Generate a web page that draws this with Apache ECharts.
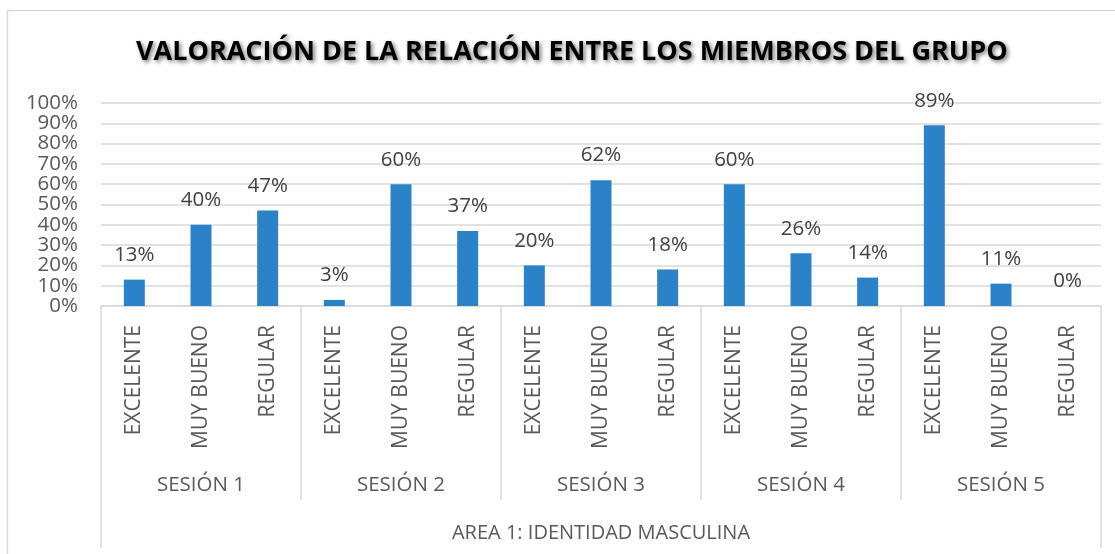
<!DOCTYPE html>
<html>
<head>
<meta charset="utf-8">
<script src="https://cdn.jsdelivr.net/npm/echarts@6/dist/echarts.min.js"></script>
<style>html,body{margin:0;padding:0;background:#fff}#c{width:1115px;height:554px}</style>
</head>
<body>
<div id="c"></div>
<script>
const title = 'VALORACIÓN DE LA RELACIÓN ENTRE LOS MIEMBROS DEL GRUPO';
const ratings = ['EXCELENTE', 'MUY BUENO', 'REGULAR'];
const sessions = ['SESIÓN 1', 'SESIÓN 2', 'SESIÓN 3', 'SESIÓN 4', 'SESIÓN 5'];
const area = ['AREA 1: IDENTIDAD MASCULINA'];
const values = [13, 40, 47, 3, 60, 37, 20, 62, 18, 60, 26, 14, 89, 11, 0];
const yTicks = ['0%', '10%', '20%', '30%', '40%', '50%', '60%', '70%', '80%', '90%', '100%'];

const categories = [];
sessions.forEach(() => ratings.forEach(r => categories.push(r)));

const FONT = '"Open Sans", "Noto Sans", sans-serif';
const GRAY = '#595959';
const LINE = '#d9d9d9';

const chart = echarts.init(document.getElementById('c'), null, {renderer: 'canvas'});
chart.setOption({
  animation: false,
  backgroundColor: '#fff',
  title: {
    text: title,
    left: 131,
    top: 34,
    textStyle: {
      fontFamily: FONT, fontWeight: 'bold', fontSize: 27, color: '#000',
      textShadowColor: 'rgba(0,0,0,0.55)', textShadowBlur: 4,
      textShadowOffsetX: 2, textShadowOffsetY: 2
    }
  },
  graphic: [{
    type: 'rect', silent: true, z: -1,
    shape: {x: 7.5, y: 10.5, width: 1300, height: 700},
    style: {fill: 'none', stroke: LINE, lineWidth: 1.5}
  }],
  grid: {left: 101, right: 14, top: 103, bottom: 248, containLabel: false},
  yAxis: [{
    type: 'value', min: 0, max: 100, interval: 10,
    axisLine: {show: false}, axisTick: {show: false},
    splitLine: {lineStyle: {color: LINE, width: 1.5}},
    axisLabel: {show: false}
  }, {
    type: 'category', data: yTicks, position: 'left', boundaryGap: false,
    axisLine: {show: false}, axisTick: {show: false}, splitLine: {show: false},
    axisLabel: {interval: 0, color: GRAY, fontFamily: FONT, fontSize: 20.5, margin: 23}
  }],
  xAxis: [{
    type: 'category', data: categories, position: 'bottom',
    axisLine: {lineStyle: {color: LINE, width: 1.5}},
    axisTick: {show: false},
    axisLabel: {rotate: 90, interval: 0, color: GRAY, fontFamily: FONT, fontSize: 21, margin: 19}
  }, {
    type: 'category', data: sessions, position: 'bottom',
    axisLine: {show: false},
    axisTick: {show: true, length: 194, interval: 0, lineStyle: {color: LINE, width: 1.5}},
    axisLabel: {interval: 0, color: GRAY, fontFamily: FONT, fontSize: 20.5, margin: 169}
  }, {
    type: 'category', data: area, position: 'bottom',
    axisLine: {show: false},
    axisTick: {show: true, length: 242, interval: 0, lineStyle: {color: LINE, width: 1.5}},
    axisLabel: {interval: 0, color: GRAY, fontFamily: FONT, fontSize: 20, margin: 217}
  }],
  series: [{
    type: 'bar', xAxisIndex: 0, yAxisIndex: 0, data: values, barWidth: 21,
    itemStyle: {color: '#2a83c8'},
    label: {
      show: true, position: 'top', distance: 14,
      formatter: p => p.value + '%',
      color: '#404040', fontFamily: FONT, fontSize: 20.5
    }
  }]
});
</script>
</body>
</html>
